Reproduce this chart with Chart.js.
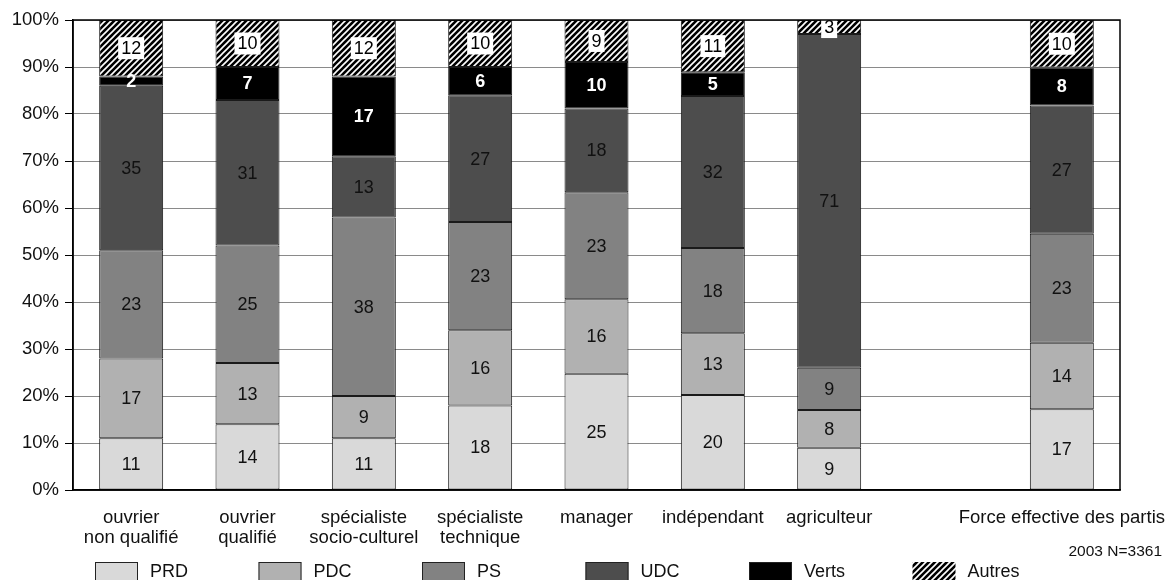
<!DOCTYPE html>
<html>
<head>
<meta charset="utf-8">
<script src="https://cdn.jsdelivr.net/npm/chart.js@4/dist/chart.umd.min.js"></script>
<style>
  body { margin: 0; background: #fff; }
  #wrap { width: 1169px; height: 580px; }
</style>
</head>
<body>
<div id="wrap"><canvas id="chart" width="1169" height="580"></canvas></div>
<script>
const categories = [
    ['ouvrier', 'non qualifié'],
    ['ouvrier', 'qualifié'],
    ['spécialiste', 'socio-culturel'],
    ['spécialiste', 'technique'],
    'manager',
    'indépendant',
    'agriculteur',
    '',
    'Force effective des partis'
];
const parties = ['PRD', 'PDC', 'PS', 'UDC', 'Verts', 'Autres'];
const prd    = [11, 14, 11, 18, 25, 20, 9,  null, 17];
const pdc    = [17, 13, 9,  16, 16, 13, 8,  null, 14];
const ps     = [23, 25, 38, 23, 23, 18, 9,  null, 23];
const udc    = [35, 31, 13, 27, 18, 32, 71, null, 27];
const verts  = [2,  7,  17, 6,  10, 5,  0,  null, 8];
const autres = [12, 10, 12, 10, 9,  11, 3,  null, 10];
const yTicks = [0, 10, 20, 30, 40, 50, 60, 70, 80, 90, 100];
const note = '2003 N=3361';

const FONT = '"Liberation Sans", Arial, Helvetica, sans-serif';
const series = [prd, pdc, ps, udc, verts, autres];
const fills = ['#d9d9d9', '#b1b1b1', '#828282', '#4d4d4d', '#000000', null];

// hatch pattern for "Autres"
function makeHatch() {
    const c = document.createElement('canvas');
    c.width = 6; c.height = 6;
    const g = c.getContext('2d');
    g.fillStyle = '#000';
    g.fillRect(0, 0, 6, 6);
    g.strokeStyle = '#fff';
    g.lineWidth = 1.6;
    g.beginPath();
    g.moveTo(-1, 7); g.lineTo(7, -1);
    g.moveTo(-4, 4); g.lineTo(4, -4);
    g.moveTo(2, 10); g.lineTo(10, 2);
    g.stroke();
    return document.getElementById('chart').getContext('2d').createPattern(c, 'repeat');
}
const hatch = makeHatch();
fills[5] = hatch;

// totals per category, values shown as share of 100%
const totals = categories.map((c, i) => series.reduce((s, arr) => s + (arr[i] || 0), 0));
const share = arr => arr.map((v, i) => v === null ? null : v / totals[i] * 100);

const datasets = parties.map((p, k) => ({
    label: p,
    data: share(series[k]),
    raw: series[k],
    backgroundColor: fills[k],
    borderColor: '#1a1a1a',
    borderWidth: 1,
    borderSkipped: false,
    categoryPercentage: 1,
    barPercentage: 0.55
}));

const labelPlugin = {
    id: 'segLabels',
    afterDatasetsDraw(chart) {
        const ctx = chart.ctx;
        ctx.save();
        ctx.textAlign = 'center';
        ctx.textBaseline = 'middle';
        chart.data.datasets.forEach((ds, k) => {
            const meta = chart.getDatasetMeta(k);
            meta.data.forEach((bar, i) => {
                const v = ds.raw[i];
                if (!v) return;
                const y = (bar.y + bar.base) / 2;
                if (k === 4) {
                    ctx.font = 'bold 18px ' + FONT;
                    ctx.fillStyle = '#fff';
                    ctx.fillText(String(v), bar.x, y + 1);
                } else if (k === 5) {
                    ctx.font = '18px ' + FONT;
                    const w = ctx.measureText(String(v)).width + 6;
                    ctx.fillStyle = '#fff';
                    ctx.fillRect(bar.x - w / 2, y - 11, w, 22);
                    ctx.fillStyle = '#000';
                    ctx.fillText(String(v), bar.x, y + 1);
                } else {
                    ctx.font = '18px ' + FONT;
                    ctx.fillStyle = '#111';
                    ctx.fillText(String(v), bar.x, y + 1);
                }
            });
        });
        ctx.restore();
    }
};

const framePlugin = {
    id: 'frame',
    afterDraw(chart) {
        const ctx = chart.ctx;
        const a = chart.chartArea;
        ctx.save();
        ctx.strokeStyle = '#000';
        ctx.lineWidth = 1.5;
        ctx.strokeRect(a.left, a.top, a.right - a.left, a.bottom - a.top);

        // legend
        ctx.font = '18px ' + FONT;
        ctx.textBaseline = 'middle';
        ctx.textAlign = 'left';
        parties.forEach((p, k) => {
            const x = 95 + k * 163.5;
            ctx.fillStyle = fills[k];
            ctx.fillRect(x, 562, 43, 19);
            if (k < 5) {
                ctx.strokeStyle = '#222';
                ctx.lineWidth = 1;
                ctx.strokeRect(x + 0.5, 562.5, 42, 19);
            }
            ctx.fillStyle = '#111';
            ctx.fillText(p, x + 55, 572);
        });

        ctx.font = '15.5px ' + FONT;
        ctx.textAlign = 'right';
        ctx.fillText(note, 1162, 552);
        ctx.restore();
    }
};

new Chart(document.getElementById('chart'), {
    type: 'bar',
    data: { labels: categories, datasets: datasets },
    options: {
        responsive: false,
        animation: false,
        layout: { padding: { left: 0, top: 20, right: 49, bottom: 0 } },
        plugins: {
            legend: { display: false },
            tooltip: { enabled: false }
        },
        scales: {
            x: {
                stacked: true,
                grid: { display: false },
                border: { color: '#000', width: 1.5 },
                ticks: {
                    autoSkip: false,
                    maxRotation: 0,
                    minRotation: 0,
                    padding: 10,
                    color: '#111',
                    font: { family: FONT, size: 18.5, lineHeight: 1.08 }
                },
                afterFit(scale) {
                    scale.height = 90;
                    scale.paddingLeft = 0;
                    scale.paddingRight = 0;
                }
            },
            y: {
                stacked: true,
                min: 0,
                max: 100,
                afterBuildTicks(scale) { scale.ticks = yTicks.map(v => ({ value: v })); },
                grid: { color: '#8a8a8a', lineWidth: 1, tickColor: '#000', tickLength: 8 },
                border: { color: '#000', width: 1.5 },
                ticks: {
                    padding: 6,
                    color: '#111',
                    font: { family: FONT, size: 18.5 },
                    callback: v => v + '%'
                },
                afterFit(scale) { scale.width = 73; }
            }
        }
    },
    plugins: [labelPlugin, framePlugin]
});
</script>
</body>
</html>
